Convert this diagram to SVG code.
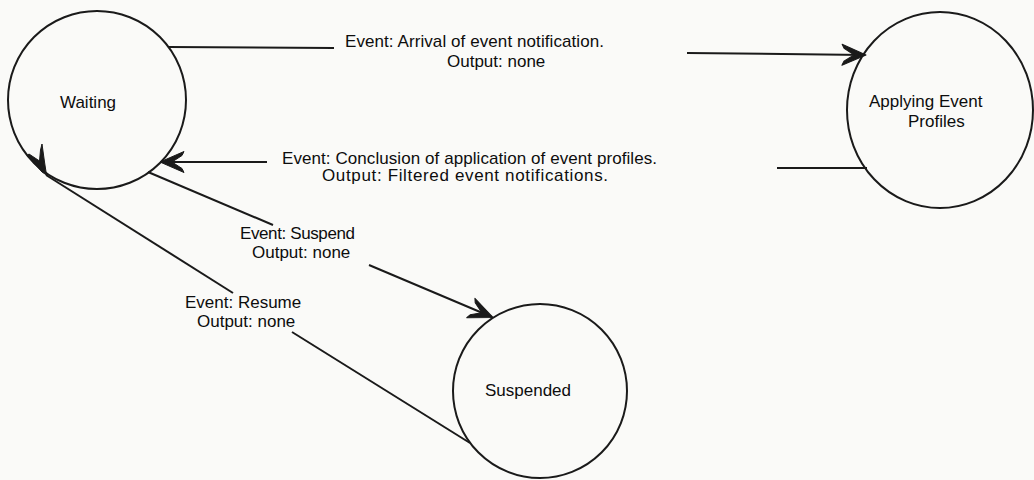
<svg xmlns="http://www.w3.org/2000/svg" width="1034" height="480" viewBox="0 0 1034 480">
  <style>
    .state { fill: none; stroke: #1a1a1a; stroke-width: 2; }
    .edge { fill: none; stroke: #1a1a1a; stroke-width: 2; }
    .label { font-family: "Liberation Sans", Arial, sans-serif; font-size: 17px; fill: #0d0d0d; }
  </style>
  <defs>
    <marker id="barb" markerUnits="userSpaceOnUse" markerWidth="30" markerHeight="26" viewBox="-26 -13 30 26" refX="0" refY="0" orient="auto">
      <path d="M1,0 L-23,-10.5 L-21,-6.5 L-11,0 L-21,6.5 L-23,10.5 Z" fill="#1a1a1a" stroke="#1a1a1a" stroke-width="1" stroke-linejoin="round"/>
    </marker>
  </defs>

  <rect x="0" y="0" width="1034" height="480" fill="#fafaf8"/>

  <!-- states -->
  <g id="waiting">
    <circle class="state" cx="97" cy="100" r="89"/>
    <text class="label" x="60" y="108">Waiting</text>
  </g>
  <g id="applying-event-profiles">
    <ellipse class="state" cx="940" cy="110" rx="93" ry="98"/>
    <text class="label" x="869" y="107">Applying Event</text>
    <text class="label" x="908" y="127">Profiles</text>
  </g>
  <g id="suspended">
    <circle class="state" cx="540" cy="391" r="87"/>
    <text class="label" x="485" y="396">Suspended</text>
  </g>

  <!-- transitions -->
  <g id="connectors">
    <!-- Waiting to Applying Event Profiles -->
    <path class="edge" d="M168,47 L334,48"/>
    <path class="edge" d="M687,53 L865,55" marker-end="url(#barb)"/>
    <!-- Applying Event Profiles back to Waiting -->
    <path class="edge" d="M867,168 L777,168"/>
    <path class="edge" d="M267,162 L161,162" marker-end="url(#barb)"/>
    <!-- Waiting to Suspended -->
    <path class="edge" d="M148,172 L273,225"/>
    <path class="edge" d="M369,265 L492,317" marker-end="url(#barb)"/>
    <!-- Suspended back to Waiting -->
    <path class="edge" d="M470,443 L292,332"/>
    <path class="edge" d="M233,293 L46,175"/>
    <path d="M42,144 L44.5,162 L46.5,175 L42,172 L27,155.5 L29,154 L39.5,161 L40.5,150 Z" fill="#1a1a1a" stroke="#1a1a1a" stroke-width="1" stroke-linejoin="round"/>
  </g>

  <!-- transition labels -->
  <g id="labels">
    <text class="label" x="345" y="47" textLength="259" lengthAdjust="spacing">Event: Arrival of event notification.</text>
    <text class="label" x="447" y="67">Output: none</text>
    <text class="label" x="282" y="164" textLength="375" lengthAdjust="spacing">Event: Conclusion of application of event profiles.</text>
    <text class="label" x="322" y="181" textLength="286" lengthAdjust="spacing">Output: Filtered event notifications.</text>
    <text class="label" x="240" y="239" textLength="115" lengthAdjust="spacing">Event: Suspend</text>
    <text class="label" x="252" y="258">Output: none</text>
    <text class="label" x="185" y="308">Event: Resume</text>
    <text class="label" x="197" y="327">Output: none</text>
  </g>
</svg>
